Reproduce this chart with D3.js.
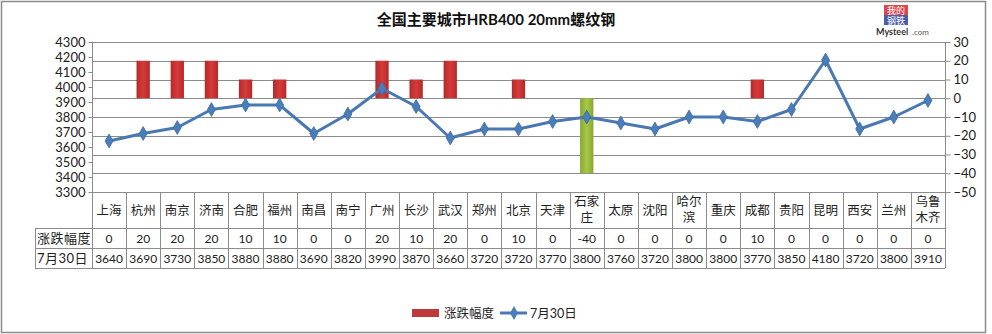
<!DOCTYPE html>
<html>
<head>
<meta charset="utf-8">
<script src="https://cdn.jsdelivr.net/npm/d3@7"></script>
<style>
  body { margin: 0; background: #fff; }
  svg { display: block; font-family: "Lato", "Noto Sans CJK SC", sans-serif; }
  .grid line { stroke: #8c8c8c; stroke-width: 1; }
  .axis text { font-size: 13px; fill: #222; font-family: "Lato", sans-serif; }
  .axis path, .axis line { stroke: #8c8c8c; }
  .cell { fill: none; stroke: #8c8c8c; stroke-width: 1; }
  .tbl { font-size: 12.5px; fill: #222; }
  .rowlab { font-size: 13px; fill: #222; letter-spacing: 0.5px; }
  .num { font-size: 12px; fill: #222; }
</style>
</head>
<body>
<svg id="chart" width="992" height="334"></svg>
<script>
var cities = ['上海','杭州','南京','济南','合肥','福州','南昌','南宁','广州','长沙','武汉','郑州','北京','天津','石家庄','太原','沈阳','哈尔滨','重庆','成都','贵阳','昆明','西安','兰州','乌鲁木齐'];
var change = [0,20,20,20,10,10,0,0,20,10,20,0,10,0,-40,0,0,0,0,10,0,0,0,0,0];
var price = [3640,3690,3730,3850,3880,3880,3690,3820,3990,3870,3660,3720,3720,3770,3800,3760,3720,3800,3800,3770,3850,4180,3720,3800,3910];
var leftTicks = [3300,3400,3500,3600,3700,3800,3900,4000,4100,4200,4300];
var rightTicks = [-50,-40,-30,-20,-10,0,10,20,30];
var seriesNames = ['涨跌幅度','7月30日'];
var title = '全国主要城市HRB400 20mm螺纹钢';

var svg = d3.select('#chart');
var plot = {left: 92, right: 945, top: 42, bottom: 192};

// outer frame
svg.append('rect').attr('x', 1.5).attr('y', 1.5).attr('width', 984).attr('height', 331)
  .attr('fill', '#fff').attr('stroke', '#8c8c8c').attr('stroke-width', 1.5);

var defs = svg.append('defs');
function grad(id, edge, mid) {
  var g = defs.append('linearGradient').attr('id', id).attr('x1', 0).attr('x2', 1).attr('y1', 0).attr('y2', 0);
  g.append('stop').attr('offset', '0%').attr('stop-color', edge);
  g.append('stop').attr('offset', '50%').attr('stop-color', mid);
  g.append('stop').attr('offset', '100%').attr('stop-color', edge);
}
grad('gRed', '#b52a2a', '#d63a3a');
grad('gGreen', '#86a82e', '#a8c84a');

var x = d3.scaleBand().domain(cities).range([plot.left, plot.right]).padding(0);
var yL = d3.scaleLinear().domain([3300, 4300]).range([plot.bottom, plot.top]);
var yR = d3.scaleLinear().domain([-50, 30]).range([plot.bottom, plot.top]);

// gridlines follow the right axis
svg.append('g').attr('class', 'grid').selectAll('line').data(rightTicks).join('line')
  .attr('x1', plot.left).attr('x2', plot.right)
  .attr('y1', function(d) { return Math.round(yR(d)) + 0.5; })
  .attr('y2', function(d) { return Math.round(yR(d)) + 0.5; });

var axL = svg.append('g').attr('class', 'axis').attr('transform', 'translate(' + (plot.left + 0.5) + ',0)')
  .call(d3.axisLeft(yL).tickValues(leftTicks).tickFormat(d3.format('d')).tickSize(4).tickPadding(3));
axL.select('.domain').attr('d', 'M0,' + plot.top + 'V' + plot.bottom);

var axR = svg.append('g').attr('class', 'axis').attr('transform', 'translate(' + (plot.right + 0.5) + ',0)')
  .call(d3.axisRight(yR).tickValues(rightTicks).tickFormat(d3.format('d')).tickSize(5).tickPadding(3));
axR.select('.domain').attr('d', 'M0,' + plot.top + 'V' + plot.bottom);

// bars (secondary axis)
var bw = x.bandwidth() * 0.39;
svg.append('g').selectAll('rect').data(cities).join('rect')
  .attr('x', function(d) { return x(d) + (x.bandwidth() - bw) / 2; })
  .attr('width', bw)
  .attr('y', function(d, i) { return yR(Math.max(0, change[i])); })
  .attr('height', function(d, i) { return Math.abs(yR(change[i]) - yR(0)); })
  .attr('fill', function(d, i) { return change[i] < 0 ? 'url(#gGreen)' : 'url(#gRed)'; });

// price line
var line = d3.line()
  .x(function(d, i) { return x(cities[i]) + x.bandwidth() / 2; })
  .y(function(d) { return yL(d); });
svg.append('path').datum(price).attr('d', line)
  .attr('fill', 'none').attr('stroke', '#4a78b0').attr('stroke-width', 3).attr('stroke-linejoin', 'round');

var diamond = d3.symbol().type(d3.symbolDiamond).size(55);
svg.append('g').selectAll('path').data(price).join('path')
  .attr('d', diamond)
  .attr('transform', function(d, i) { return 'translate(' + (x(cities[i]) + x.bandwidth() / 2) + ',' + yL(d) + ')'; })
  .attr('fill', '#4a7ebb').attr('stroke', '#3d6aa3').attr('stroke-width', 0.8);

// data table
var rows = {catTop: plot.bottom, catBot: 228, r1Bot: 248, r2Bot: 268};
var tbl = svg.append('g');
var labelLeft = 35;
// horizontal lines
[rows.catBot, rows.r1Bot, rows.r2Bot].forEach(function(yy) {
  tbl.append('line').attr('class', 'cell').attr('x1', labelLeft).attr('x2', plot.right).attr('y1', yy + 0.5).attr('y2', yy + 0.5);
});
tbl.append('line').attr('class', 'cell').attr('x1', labelLeft + 0.5).attr('x2', labelLeft + 0.5).attr('y1', rows.catBot).attr('y2', rows.r2Bot);
// vertical lines
tbl.selectAll('.vl').data(cities).join('line').attr('class', 'cell')
  .attr('x1', function(d) { return Math.round(x(d)) + 0.5; })
  .attr('x2', function(d) { return Math.round(x(d)) + 0.5; })
  .attr('y1', rows.catTop).attr('y2', rows.r2Bot);
tbl.append('line').attr('class', 'cell')
  .attr('x1', plot.right + 0.5).attr('x2', plot.right + 0.5).attr('y1', rows.catTop).attr('y2', rows.r2Bot);

// category labels (wrap after two chars)
tbl.selectAll('.cat').data(cities).join('text').attr('class', 'tbl')
  .attr('text-anchor', 'middle')
  .each(function(d) {
    var t = d3.select(this);
    var cx = x(d) + x.bandwidth() / 2;
    if (d.length > 2) {
      t.append('tspan').attr('x', cx).attr('y', 206).text(d.slice(0, 2));
      t.append('tspan').attr('x', cx).attr('y', 222).text(d.slice(2));
    } else {
      t.append('tspan').attr('x', cx).attr('y', 215).text(d);
    }
  });

tbl.selectAll('.v1').data(change).join('text').attr('class', 'num')
  .attr('text-anchor', 'middle')
  .attr('x', function(d, i) { return x(cities[i]) + x.bandwidth() / 2; })
  .attr('y', 243).text(function(d) { return d; });

tbl.selectAll('.v2').data(price).join('text').attr('class', 'num')
  .attr('text-anchor', 'middle')
  .attr('x', function(d, i) { return x(cities[i]) + x.bandwidth() / 2; })
  .attr('y', 263).text(function(d) { return d; });

tbl.append('text').attr('class', 'rowlab').attr('x', 37).attr('y', 243).text(seriesNames[0]);
tbl.append('text').attr('class', 'rowlab').attr('x', 37).attr('y', 263).text(seriesNames[1]);

// title
svg.append('text').attr('x', 496).attr('y', 25).attr('text-anchor', 'middle')
  .attr('font-size', 15).attr('font-weight', 'bold').attr('fill', '#111').text(title);

// logo
var logo = svg.append('g').attr('transform', 'translate(884,5)');
logo.append('rect').attr('x', 0).attr('y', 0).attr('width', 24).attr('height', 10).attr('fill', '#e0454a');
logo.append('rect').attr('x', 0).attr('y', 10).attr('width', 24).attr('height', 10).attr('fill', '#4b5fa8');
logo.append('text').attr('x', 12).attr('y', 9).attr('text-anchor', 'middle').attr('font-size', 9).attr('fill', '#fff').text('我的');
logo.append('text').attr('x', 12).attr('y', 19).attr('text-anchor', 'middle').attr('font-size', 9).attr('fill', '#fff').text('钢铁');
logo.append('text').attr('x', -8).attr('y', 30).attr('font-size', 9).attr('font-weight', 'bold').attr('fill', '#333').text('Mysteel');
logo.append('text').attr('x', 28).attr('y', 30).attr('font-size', 8).attr('fill', '#555').text('.com');

// legend
var lg = svg.append('g');
lg.append('rect').attr('x', 412).attr('y', 309).attr('width', 27).attr('height', 8).attr('fill', '#c0393a');
lg.append('text').attr('class', 'tbl').attr('x', 444).attr('y', 318).text(seriesNames[0]);
lg.append('line').attr('x1', 500).attr('x2', 527).attr('y1', 313).attr('y2', 313)
  .attr('stroke', '#4a78b0').attr('stroke-width', 3);
lg.append('path').attr('d', diamond).attr('transform', 'translate(514,313)').attr('fill', '#4a7ebb');
lg.append('text').attr('class', 'tbl').attr('x', 530).attr('y', 318).text(seriesNames[1]);
</script>
</body>
</html>
